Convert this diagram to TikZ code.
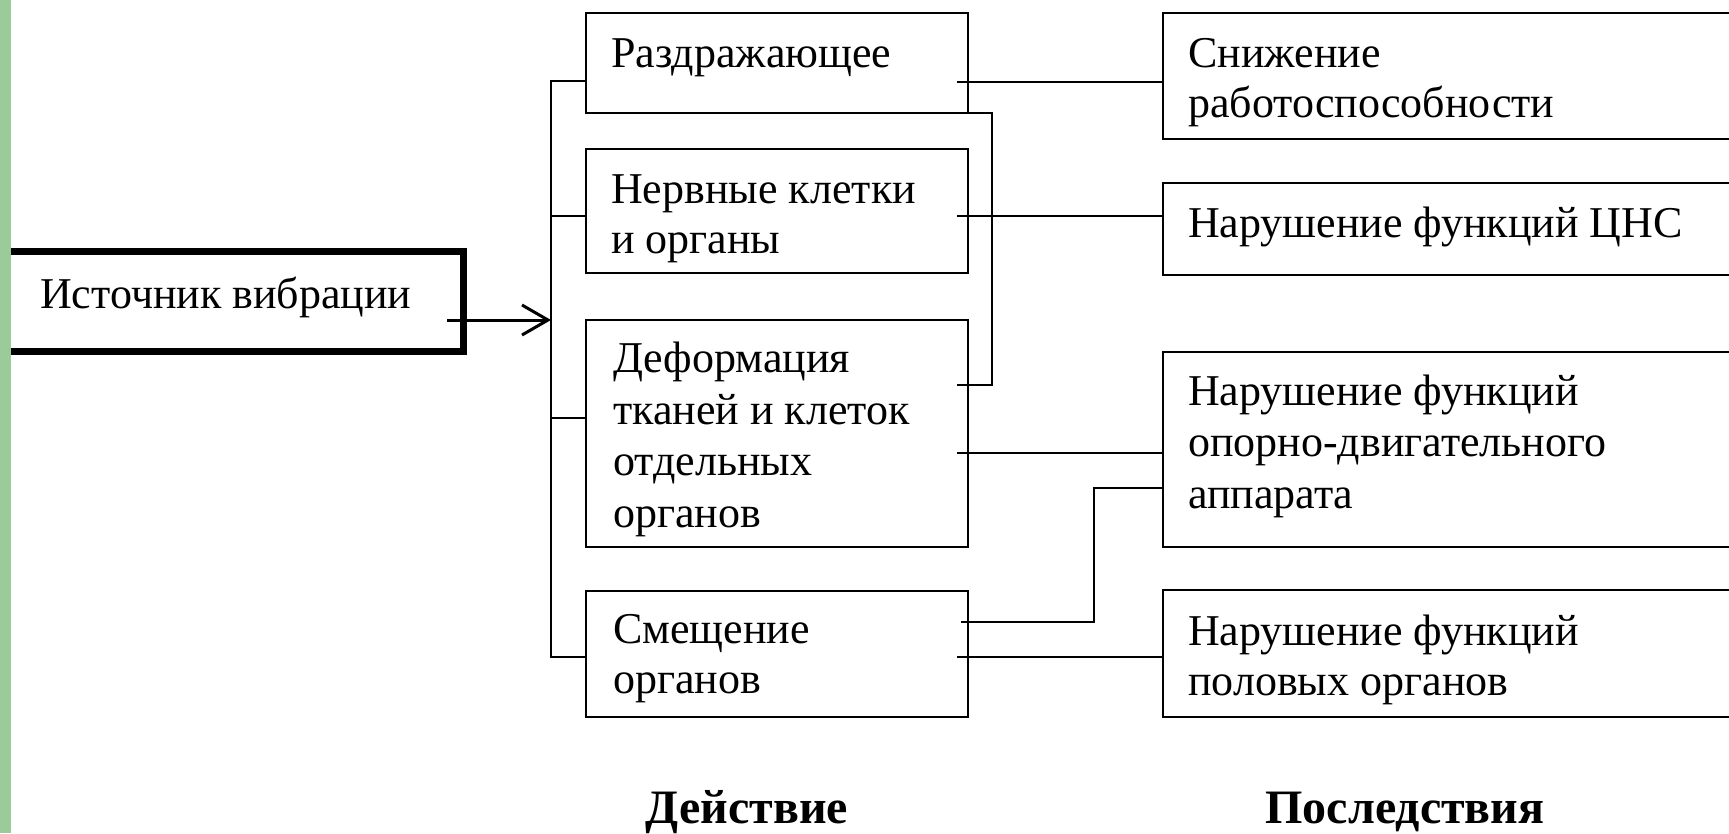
\documentclass[tikz,border=0pt]{standalone}
\usepackage{fontspec}
\setmainfont{Liberation Serif}
\usetikzlibrary{arrows.meta, positioning}
\definecolor{stripgreen}{RGB}{155,203,152}

\begin{document}
\begin{tikzpicture}[x=1pt, y=-1pt,
    box/.style={draw, line width=1.4pt, inner sep=0pt, outer sep=0pt, anchor=north west, minimum width=382pt},
    resbox/.style={box, minimum width=620pt},
    txt/.style={inner sep=0pt, anchor=base west, align=left, font=\fontsize{44}{50}\selectfont},
    link/.style={line width=1.4pt},
    feed/.style={line width=3pt, -{Straight Barb[length=26pt, width=30pt]}},
    head/.style={inner sep=0pt, anchor=base, font=\fontsize{48}{50}\selectfont\bfseries}]
                % Frame
                \useasboundingbox (0,0) rectangle (1729,833);

                % Source
                \node[draw, line width=7pt, inner sep=0pt, outer sep=0pt, anchor=north west,
                    minimum width=483pt, minimum height=100pt] (src) at (-20,251) {};
                \node[txt] (src-t) at (40,308) {Источник вибрации};

                % Actions (text placed at the baseline of its last line)
                \node[box, minimum height=100pt] (act1) at (586,13) {};
                \node[box, minimum height=124pt] (act2) at (586,149) {};
                \node[box, minimum height=227pt] (act3) at (586,320) {};
                \node[box, minimum height=126pt] (act4) at (586,591) {};
                \node[txt] (act1-t) at (611,67) {Раздражающее};
                \node[txt] (act2-t) at (611,253) {Нервные клетки\\и органы};
                \node[txt, font=\fontsize{44}{51.5}\selectfont] (act3-t) at (613,527)
                    {Деформация\\тканей и клеток\\отдельных\\органов};
                \node[txt] (act4-t) at (613,693) {Смещение\\органов};

                % Consequences
                \node[resbox, minimum height=126pt] (res1) at (1163,13) {};
                \node[resbox, minimum height=92pt] (res2) at (1163,183) {};
                \node[resbox, minimum height=195pt] (res3) at (1163,352) {};
                \node[resbox, minimum height=127pt] (res4) at (1163,590) {};
                \node[txt] (res1-t) at (1188,117) {Снижение\\работоспособности};
                \node[txt] (res2-t) at (1188,237) {Нарушение функций ЦНС};
                \node[txt, font=\fontsize{44}{51.5}\selectfont] (res3-t) at (1188,508)
                    {Нарушение функций\\опорно-двигательного\\аппарата};
                \node[txt] (res4-t) at (1188,695) {Нарушение функций\\половых органов};

                % Left bus
                \coordinate (bus) at (551,320);
                \draw[feed] ([shift={(-16,19)}]src.east) -- (bus);
                \coordinate (s1) at ([shift={(0,18)}]act1.west);
                \coordinate (s2) at ([shift={(0,5)}]act2.west);
                \coordinate (s3) at ([shift={(0,-15.5)}]act3.west);
                \coordinate (s4) at ([shift={(0,3)}]act4.west);
                \draw[link] (s1) -- (s1 -| bus) -- (s4 -| bus) -- (s4);
                \foreach \s in {s2,s3} \draw[link] (\s -| bus) -- (\s);

                % Right links
                \coordinate (c1) at ([shift={(-11,19)}]act1.east);
                \coordinate (c2) at ([shift={(-11,5)}]act2.east);
                \coordinate (c3) at ([shift={(-11,19.5)}]act3.east);
                \coordinate (l3) at ([shift={(-11,-48.5)}]act3.east);
                \coordinate (c4) at ([shift={(-11,3)}]act4.east);
                \coordinate (j4) at ([shift={(-7,-32)}]act4.east);
                \coordinate (jx) at ([shift={(-69,38.5)}]res3.west);
                \draw[link] (c1) -- (c1 -| res1.west);
                \draw[link] (c2) -- (c2 -| res2.west);
                \draw[link] (c3) -- (c3 -| res3.west);
                \draw[link] (c4) -- (c4 -| res4.west);
                \draw[link] (act1.south east) -- ++(24,0) |- (l3);
                \draw[link] (j4) -| (jx) -- (jx -| res3.west);

                % Green strip
                \fill[stripgreen] (0,0) rectangle (11,833);

                % Headings
                \node[head] (h-act) at (747,823) {Действие};
                \node[head] (h-res) at (1405,823) {Последствия};
\end{tikzpicture}
\end{document}
